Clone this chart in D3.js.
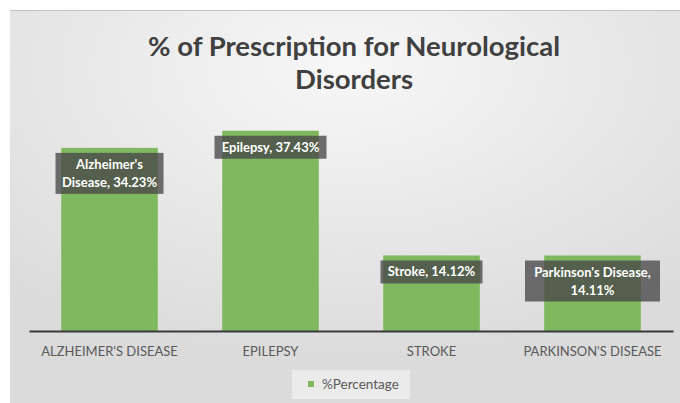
<!DOCTYPE html>
<html>
<head>
<meta charset="utf-8">
<script src="https://cdn.jsdelivr.net/npm/d3@7"></script>
<style>
  body { margin: 0; background: #fff; }
  svg { display: block; font-family: Lato, "Open Sans", sans-serif; }
</style>
</head>
<body>
<div id="chart"></div>
<script>
// chart values
const categories = ["Alzheimer's Disease", "Epilepsy", "Stroke", "Parkinson's Disease"];
const axisLabels = ["ALZHEIMER'S DISEASE", "EPILEPSY", "STROKE", "PARKINSON'S DISEASE"];
const percentages = [34.23, 37.43, 14.12, 14.11];
const dataLabels = [["Alzheimer's", "Disease, 34.23%"], ["Epilepsy, 37.43%"], ["Stroke, 14.12%"], ["Parkinson's Disease,", "14.11%"]];
const titleLines = ["% of Prescription for Neurological", "Disorders"];
const seriesName = "%Percentage";

const w = 680, h = 403;
const x_left = 29, x_right = 673;
const y_base = 331, y_top = 117;
const barColor = "#80b860";

let svg = d3.select("#chart").append("svg")
    .attr("width", w)
    .attr("height", h);

// background panel gradient
let defs = svg.append("defs");
let grad = defs.append("radialGradient")
    .attr("id", "bg")
    .attr("cx", "50%").attr("cy", "15%").attr("r", "75%");
grad.append("stop").attr("offset", "0%").attr("stop-color", "#f7f7f7");
grad.append("stop").attr("offset", "100%").attr("stop-color", "#dbdbdb");

svg.append("rect")
    .attr("x", 10).attr("y", 10)
    .attr("width", w - 10).attr("height", h - 10)
    .attr("fill", "url(#bg)");
svg.append("line")
    .attr("x1", 10).attr("x2", w)
    .attr("y1", 10.5).attr("y2", 10.5)
    .attr("stroke", "#c4c4c4");

// title
svg.append("g").selectAll("text")
    .data(titleLines)
    .enter().append("text")
    .attr("x", 354)
    .attr("y", (d, i) => 56 + i * 33)
    .attr("text-anchor", "middle")
    .attr("font-size", 27.5)
    .attr("font-weight", "bold")
    .attr("fill", "#404040")
    .text(d => d);

let xScale = d3.scaleBand()
    .domain(categories)
    .range([x_left, x_right])
    .paddingInner(0.4)
    .paddingOuter(0.2);

let yScale = d3.scaleLinear()
    .domain([0, 40])
    .range([y_base, y_top]);

// bars
svg.append("g").selectAll("rect")
    .data(percentages)
    .enter().append("rect")
    .attr("x", (d, i) => xScale(categories[i]))
    .attr("y", d => yScale(d))
    .attr("width", xScale.bandwidth())
    .attr("height", d => y_base - yScale(d))
    .attr("fill", barColor);

// x axis
let xAxis = d3.axisBottom(xScale)
    .tickSize(0)
    .tickPadding(16)
    .tickFormat((d, i) => axisLabels[i]);
let gx = svg.append("g")
    .attr("transform", "translate(0," + y_base + ")")
    .call(xAxis);
gx.select(".domain").attr("stroke", "#3a3a3a").attr("stroke-width", 2);
gx.selectAll("text")
    .attr("font-family", "Lato, 'Open Sans', sans-serif")
    .attr("font-size", 13)
    .attr("fill", "#595959");

// data labels
let boxW = [108, 112, 102, 135];
let labels = svg.append("g").selectAll("g")
    .data(percentages)
    .enter().append("g")
    .attr("transform", (d, i) => "translate(" + (xScale(categories[i]) + xScale.bandwidth() / 2) + "," + (yScale(d) + 5) + ")");

labels.append("rect")
    .attr("x", (d, i) => -boxW[i] / 2)
    .attr("y", 0)
    .attr("width", (d, i) => boxW[i])
    .attr("height", (d, i) => dataLabels[i].length * 18 + 5)
    .attr("fill", "rgba(72,72,72,0.78)");

labels.each(function(d, i) {
    d3.select(this).selectAll("text")
        .data(dataLabels[i])
        .enter().append("text")
        .attr("x", 0)
        .attr("y", (t, j) => 16 + j * 18)
        .attr("text-anchor", "middle")
        .attr("font-size", 13)
        .attr("font-weight", "bold")
        .attr("fill", "#ffffff")
        .text(t => t);
});

// legend
let legend = svg.append("g").attr("transform", "translate(292,370)");
legend.append("rect")
    .attr("width", 118).attr("height", 29)
    .attr("fill", "#ebebeb");
legend.append("rect")
    .attr("x", 16).attr("y", 11)
    .attr("width", 6).attr("height", 6)
    .attr("fill", barColor);
legend.append("text")
    .attr("x", 30).attr("y", 19)
    .attr("font-size", 13.5)
    .attr("fill", "#595959")
    .text(seriesName);
</script>
</body>
</html>
